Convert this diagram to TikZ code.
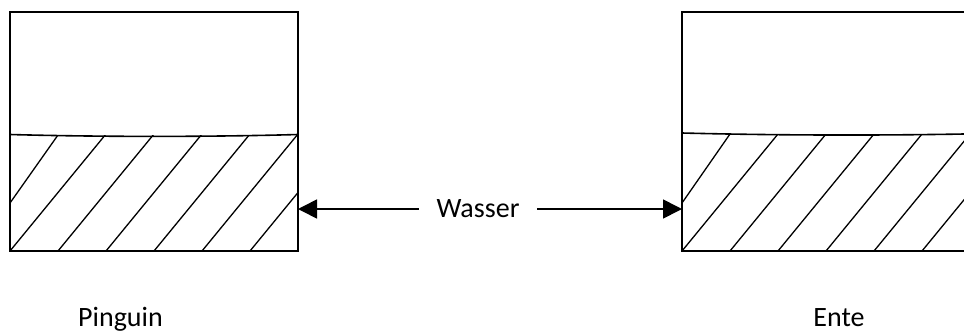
\documentclass[tikz,border=0pt]{standalone}
\usepackage{fontspec}
\setmainfont{Carlito}
\usetikzlibrary{arrows.meta,positioning}

\begin{document}
\begin{tikzpicture}[x=1pt,y=-1pt,line width=1.6pt,
  tank/.style={draw,minimum width=288pt,minimum height=239pt,inner sep=0pt,outer sep=0pt},
  txt/.style={font=\fontsize{28}{34}\selectfont},
  hatch/.style={line width=1.3pt},
  pfeil/.style={-{Triangle[length=19pt,width=19pt]}}]
\useasboundingbox (0,0) rectangle (964,333);

\node[tank] (pinguinbox) at (154,131.5) {};
\begin{scope}
\clip (0,0) rectangle (964,333);
\node[tank, minimum width=292pt] (entebox) at (828,131.5) {};
\end{scope}

% Wasserstand
\draw (10,134.5) .. controls (100,137) and (210,137) .. (298,134.5);
\draw (682,133) .. controls (780,135.5) and (880,135.5) .. (964,134);

\begin{scope}
\clip (10,135) rectangle (298,251);
\draw[hatch] (10,203) -- (58,135);
\foreach \x in {10,58,...,250} \draw[hatch] (\x,251) -- ++(96,-117);
\end{scope}
\begin{scope}
\clip (682,134) rectangle (964,251);
\draw[hatch] (682,203) -- (730,134);
\foreach \x in {682,730,...,922} \draw[hatch] (\x,251) -- ++(96,-117);
\end{scope}

\node[txt, inner xsep=17pt] (wasser) at (478,209) {Wasser};
\draw[pfeil] (wasser.west) -- (pinguinbox.east |- wasser.west);
\draw[pfeil] (wasser.east) -- (entebox.west |- wasser.east);

\node[txt, anchor=base, inner sep=0pt] (pinguin) at (120.5,326) {Pinguin};
\node[txt, anchor=base, inner sep=0pt] (ente) at (839,326) {Ente};
\end{tikzpicture}
\end{document}
